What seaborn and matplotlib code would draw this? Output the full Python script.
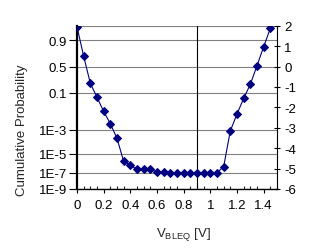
import math
import numpy as np
import pandas as pd
import matplotlib
matplotlib.use("Agg")
import matplotlib.pyplot as plt
import seaborn as sns

# ---- data ----
v_bleq = [0.00, 0.05, 0.10, 0.15, 0.20, 0.25, 0.30, 0.35, 0.40, 0.45,
          0.50, 0.55, 0.60, 0.65, 0.70, 0.75, 0.80, 0.85, 0.90, 0.95,
          1.00, 1.05, 1.10, 1.15, 1.20, 1.25, 1.30, 1.35, 1.40, 1.45, 1.50]
# normal quantile (right axis units)
z_score = [1.95, 0.50, -0.82, -1.51, -2.20, -2.80, -3.52, -4.65, -4.83, -5.04,
           -5.04, -5.04, -5.17, -5.17, -5.20, -5.20, -5.20, -5.20, -5.20, -5.20,
           -5.20, -5.20, -4.90, -3.15, -2.33, -1.56, -0.87, 0.04, 0.97, 1.87, 3.0]
prob_ticks = [0.9, 0.5, 0.1, 1e-3, 1e-5, 1e-7, 1e-9]
prob_labels = ["0.9", "0.5", "0.1", "1E-3", "1E-5", "1E-7", "1E-9"]
z_ticks = [-6, -5, -4, -3, -2, -1, 0, 1, 2]
x_ticks = [0, 0.2, 0.4, 0.6, 0.8, 1.0, 1.2, 1.4]
x_labels = ["0", "0.2", "0.4", "0.6", "0.8", "1", "1.2", "1.4"]
v_marker = 0.9

FS = 9.5


def probit(p):
    lo, hi = -10.0, 10.0
    for _ in range(200):
        mid = 0.5 * (lo + hi)
        if 0.5 * (1 + math.erf(mid / math.sqrt(2))) < p:
            lo = mid
        else:
            hi = mid
    return 0.5 * (lo + hi)


sns.set_style("white")
plt.rcParams["font.family"] = ["Liberation Sans", "DejaVu Sans"]
plt.rcParams["font.size"] = FS

fig = plt.figure(figsize=(3.15, 2.53), dpi=100)
ax = fig.add_axes([77 / 315, 1 - 190 / 253, 200 / 315, (190 - 26.7) / 253])

df = pd.DataFrame({"v": v_bleq, "z": z_score})
grid_pos = [probit(p) for p in prob_ticks]
for g in grid_pos + [2]:
    ax.axhline(g, color="#808080", lw=0.8, zorder=0)
ax.axvline(v_marker, color="black", lw=0.8, zorder=1)

sns.lineplot(data=df, x="v", y="z", ax=ax, color="#000080", lw=0.8,
             marker="D", markersize=3.8, markeredgecolor="#000080",
             markerfacecolor="#000080", zorder=3)

ax.set_xlim(0, 1.5)
ax.set_ylim(-6, 2)
ax.set_yticks(grid_pos)
ax.set_yticklabels(prob_labels)
ax.set_xticks(x_ticks)
ax.set_xticklabels(x_labels)
ax.set_xticks(np.arange(0, 1.5001, 0.05), minor=True)
ax.set_xlabel("")
ax.set_ylabel("")
for s in ["top", "right"]:
    ax.spines[s].set_visible(False)
ax.spines["left"].set_linewidth(1.6)
ax.spines["left"].set_color("black")
ax.spines["bottom"].set_linewidth(1.0)
ax.spines["bottom"].set_color("black")
ax.tick_params(axis="y", which="major", left=True, direction="out", length=5.5,
               width=0.8, pad=1.5, colors="black", labelsize=FS)
ax.tick_params(axis="x", which="major", bottom=True, direction="out", length=3,
               width=0.8, pad=4, colors="black", labelsize=FS)
ax.tick_params(axis="x", which="minor", bottom=True, direction="in", length=2.5,
               width=0.8)

ax2 = ax.twinx()
ax2.set_ylim(-6, 2)
ax2.set_yticks(z_ticks)
ax2.set_yticklabels([str(t) for t in z_ticks])
for s in ["top", "left", "bottom"]:
    ax2.spines[s].set_visible(False)
ax2.spines["right"].set_linewidth(0.8)
ax2.spines["right"].set_color("black")
ax2.tick_params(axis="y", right=True, direction="inout", length=4.5, width=0.8,
                pad=3, colors="black", labelsize=FS)
ax2.grid(False)

fig.text(22 / 315, 1 - 130 / 253, "Cumulative Probability", rotation=90,
         ha="center", va="center", fontsize=FS)
fig.text(184 / 315, 1 - 235 / 253, r"V$_{\mathregular{BLEQ}}$ [V]",
         ha="center", va="center", fontsize=FS)

fig.savefig("out.png", dpi=100)
